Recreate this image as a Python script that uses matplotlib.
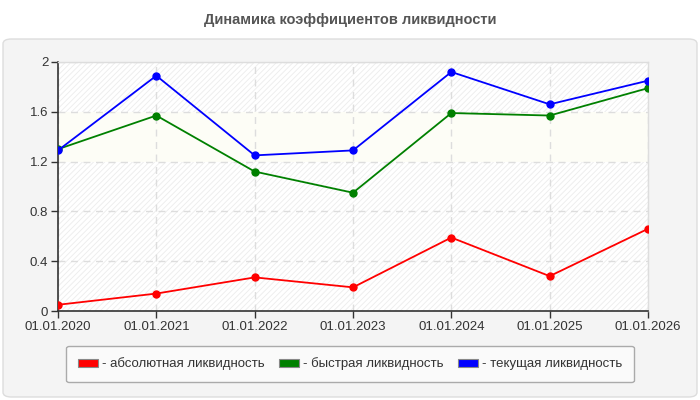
import matplotlib
matplotlib.use("Agg")
import matplotlib.pyplot as plt
from matplotlib.patches import FancyBboxPatch, Rectangle, Patch

plt.rcParams['font.family'] = ['Liberation Sans', 'DejaVu Sans']
plt.rcParams['hatch.linewidth'] = 0.6

title = "Динамика коэффициентов ликвидности"
dates = ["01.01.2020", "01.01.2021", "01.01.2022", "01.01.2023",
         "01.01.2024", "01.01.2025", "01.01.2026"]
absolute = [0.05, 0.14, 0.27, 0.19, 0.59, 0.28, 0.66]
quick = [1.30, 1.57, 1.12, 0.95, 1.59, 1.57, 1.79]
current = [1.29, 1.89, 1.25, 1.29, 1.92, 1.66, 1.85]
yticks = [0, 0.4, 0.8, 1.2, 1.6, 2]
ytick_labels = ["0", "0.4", "0.8", "1.2", "1.6", "2"]
series = [
    ("- абсолютная ликвидность", absolute, "#ff0000"),
    ("- быстрая ликвидность", quick, "#008000"),
    ("- текущая ликвидность", current, "#0000ff"),
]

fig = plt.figure(figsize=(7, 4), dpi=100)
fig.patch.set_facecolor("white")

# outer panel
panel = FancyBboxPatch((3 / 700, 3 / 400), 694 / 700, 358 / 400,
                       boxstyle="round,pad=0,rounding_size=0.012",
                       transform=fig.transFigure, facecolor="#f4f4f4",
                       edgecolor="#dddddd", linewidth=1.0, zorder=-10)
fig.patches.append(panel)

fig.text(0.5, 1 - 20 / 400, title, ha="center", va="center",
         fontsize=10.5, fontweight="bold", color="#555555")

ax = fig.add_axes([58 / 700, 1 - 311 / 400, 590 / 700, 249 / 400])
ax.set_zorder(1)
ax.set_facecolor("white")
x = list(range(len(dates)))
ax.set_xlim(0, len(dates) - 1)
ax.set_ylim(0, 2)

ax.add_patch(Rectangle((0, 0), 1, 1, transform=ax.transAxes, facecolor="white",
                       edgecolor="#ececec", hatch="//////", linewidth=0, zorder=0))
ax.axhspan(1.2, 1.6, facecolor="#fdfdf6", edgecolor="none", zorder=0.5)

ax.grid(True, color="#dddddd", linestyle=(0, (5, 4)), linewidth=1.0, zorder=1)
ax.set_axisbelow(True)

for label, vals, color in series:
    ax.plot(x, vals, color=color, linewidth=1.3, marker="o", markersize=5,
            zorder=3, label=label)

ax.set_xticks(x)
ax.set_xticklabels(dates)
ax.set_yticks(yticks)
ax.set_yticklabels(ytick_labels)
ax.tick_params(axis="both", direction="out", length=5, width=1,
               color="#333333", labelsize=9.5, labelcolor="#333333", pad=2)

for s in ["left", "bottom"]:
    ax.spines[s].set_color("#333333")
    ax.spines[s].set_linewidth(1.2)
for s in ["top", "right"]:
    ax.spines[s].set_color("#dddddd")
    ax.spines[s].set_linewidth(1.0)

handles = [Patch(facecolor=c, edgecolor="#888888", linewidth=0.8) for _, _, c in series]
labels = [l for l, _, _ in series]
leg = fig.legend(handles, labels, loc="center", ncol=3,
                 bbox_to_anchor=(350 / 700, 1 - 364 / 400),
                 fontsize=9.5, frameon=True, fancybox=True,
                 handlelength=1.5, handleheight=0.6, handletextpad=0.3,
                 columnspacing=1.1, borderpad=0.9)
frame = leg.get_frame()
frame.set_facecolor("#fafafa")
frame.set_edgecolor("#aaaaaa")
frame.set_linewidth(1.0)
frame.set_alpha(1)
for t in leg.get_texts():
    t.set_color("#333333")

fig.savefig("out.png", dpi=100, facecolor="white")
